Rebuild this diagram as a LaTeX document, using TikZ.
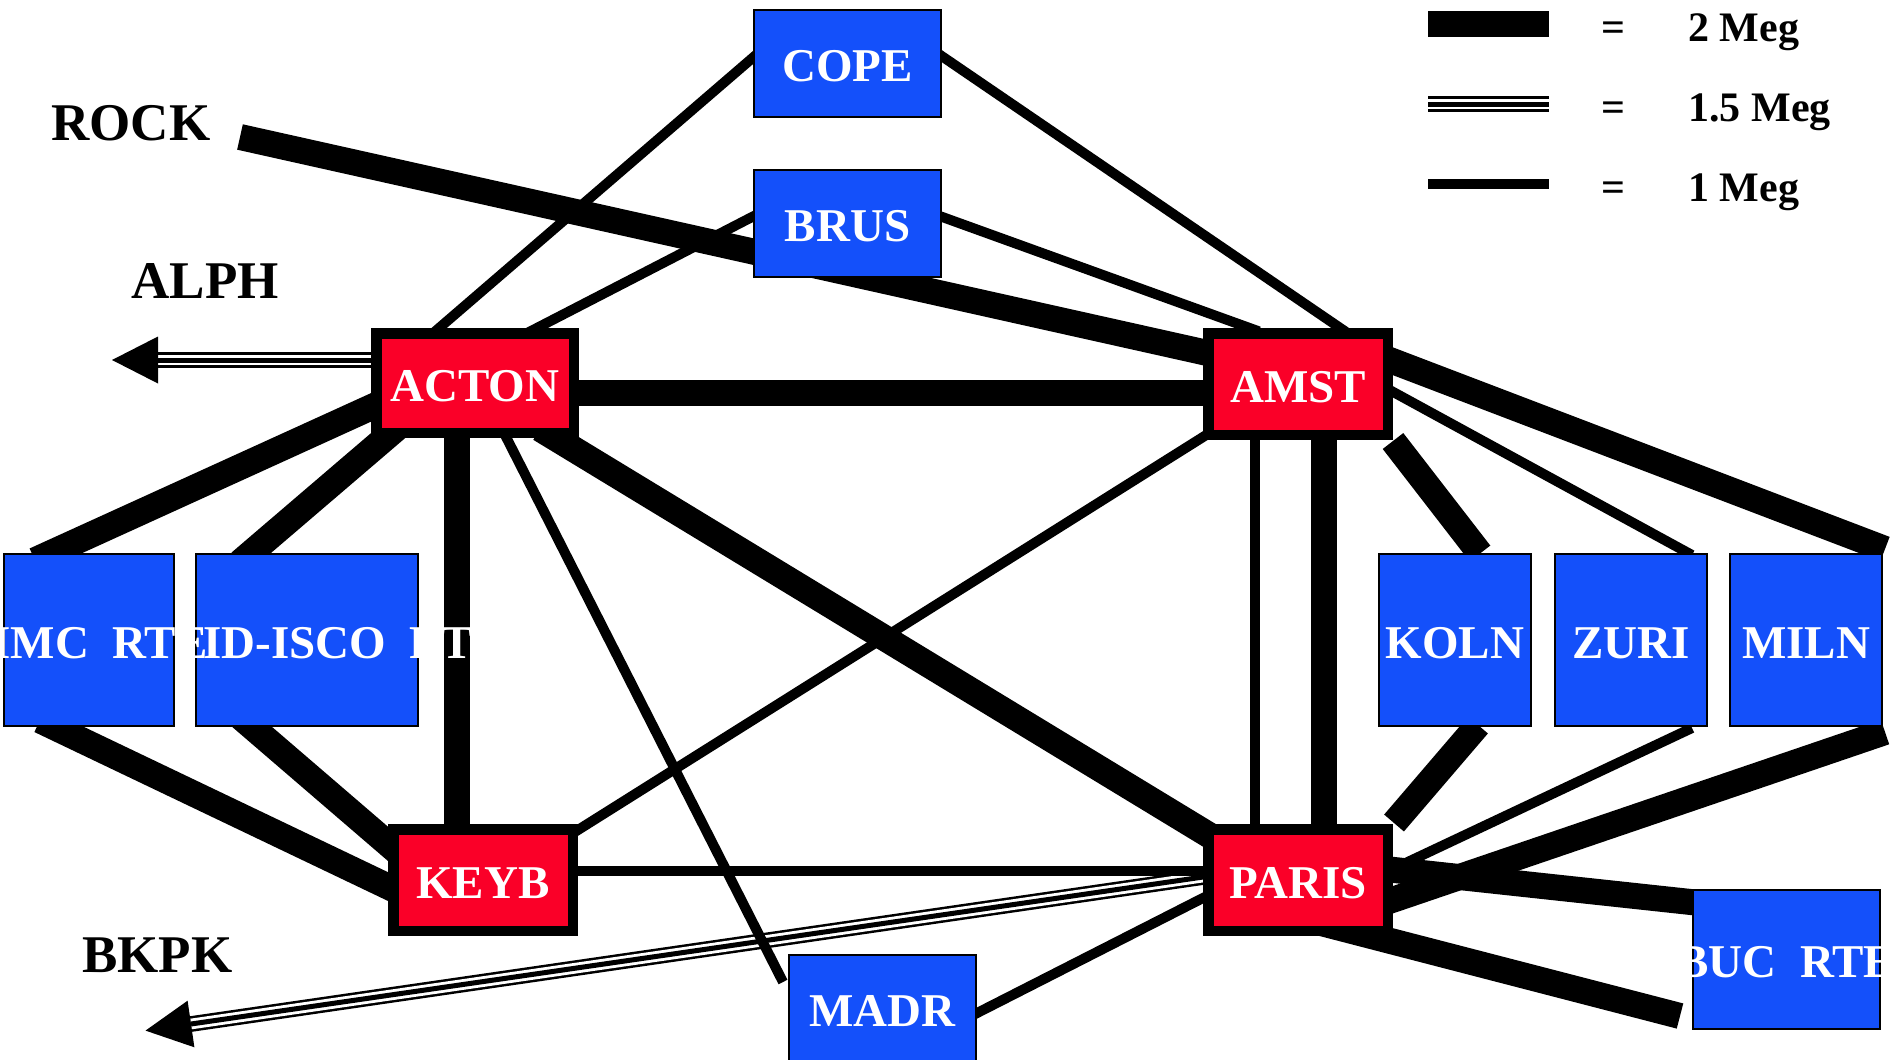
\documentclass[tikz,border=0pt]{standalone}
\usepackage{fontspec}
\setmainfont{Liberation Serif}
\usetikzlibrary{calc}
\definecolor{boxblue}{RGB}{20,80,250}
\definecolor{boxred}{RGB}{250,0,40}
\pgfdeclarelayer{bg}
\pgfsetlayers{bg,main}
\begin{document}
\begin{tikzpicture}[x=0.5pt,y=-0.5pt,
  meg2/.style={line width=13pt},
  meg1/.style={line width=5pt},
  meg15/.style={line width=7.85pt,
     postaction={draw=white,line width=5.35pt},
     postaction={draw=black,line width=2.5pt}},
  boxfont/.style={font=\fontsize{23.5}{28}\selectfont\bfseries, text height=18pt, text depth=0pt},
  bluebox/.style={draw=black, fill=boxblue, line width=1.2pt, inner sep=0pt,
     text=white, boxfont},
  redbox/.style={draw=black, fill=boxred, line width=5.25pt, inner sep=0pt,
     text=white, boxfont, minimum width=89.75pt, minimum height=50.75pt},
  smallbox/.style={bluebox, minimum width=93.3pt, minimum height=53.3pt},
  tallbox/.style={bluebox, minimum width=75.8pt, minimum height=85.8pt},
  overtext/.style={boxfont, text=white, inner sep=0pt, anchor=west},
  lbl/.style={font=\fontsize{26.5}{30}\selectfont\bfseries, inner sep=0pt, anchor=base west},
  leg/.style={font=\fontsize{21}{25}\selectfont\bfseries, inner sep=0pt},
  tipfill/.style={fill=black}
]
\useasboundingbox (0,0) rectangle (1901,1060);
\clip (0,0) rectangle (1901,1060);

% ---------- boxes ----------
\node[smallbox] (cope) at (847.5,63.5) {COPE};
\node[smallbox] (brus) at (847.5,223.5) {BRUS};
\node[smallbox] (madr) at (882.5,1008) {MADR};
\node[bluebox, minimum width=93.3pt, minimum height=69.3pt] (buc) at (1786.5,959.5) {};
\node[bluebox, minimum width=110.8pt, minimum height=85.8pt] (isco) at (307,640) {};
\node[bluebox, minimum width=84.8pt, minimum height=85.8pt] (imc) at (89,640) {};
\node[tallbox] (koln) at (1455,640) {KOLN};
\node[tallbox] (zuri) at (1631,640) {ZURI};
\node[tallbox] (miln) at (1806,640) {MILN};
\node[redbox, minimum width=98.75pt, minimum height=49.75pt] (acton) at (475,383) {ACTON};
\node[redbox] (amst) at (1298,384) {AMST};
\node[redbox] (keyb) at (483,880) {KEYB};
\node[redbox] (paris) at (1298,880) {PARIS};

% texts that run past their boxes
\node[overtext] (imctext) at ($(imc)+(-97,0)$) {IMC\ \ RTE};
\node[overtext] (iscotext) at ($(isco)+(-104,0)$) {ID-ISCO\ \ RTE};
\node[overtext] (buctext) at ($(buc)+(-109.5,0)$) {BUC\ \ RTE};

% free ends
\coordinate (rockend) at (240,137);
\coordinate (alphbase) at (158,360);
\coordinate (alphtip) at (112,360);
\coordinate (bkpkbase) at (191,1024);
\coordinate (bkpktip) at (145.5,1030.6);

\begin{pgfonlayer}{bg}
% 1.5 Meg links (under the others)
\draw[meg15] ($(acton)+(-99,-23)$) -- (alphbase);
\fill[tipfill] ($(alphbase)+(0,-23.5)$) -- (alphtip) -- ($(alphbase)+(0,23.5)$) -- cycle;
\draw[meg15] ($(paris)+(-88,-4)$) -- (bkpkbase);
\fill[tipfill] ($(bkpkbase)+(-3.4,-23.3)$) -- (bkpktip) -- ($(bkpkbase)+(3.4,23.3)$) -- cycle;

% 1 Meg links
\draw[meg1] ($(acton)+(-44,-48)$) -- ($(cope)+(-87.5,-12)$);
\draw[meg1] ($(cope)+(87.5,-12)$) -- ($(amst)+(51,-50)$);
\draw[meg1] ($(brus)+(-88.5,-10.1)$) -- ($(acton)+(53,-50.4)$);
\draw[meg1] ($(brus)+(86.5,-9.5)$) -- ($(amst)+(-39,-52.6)$);
\draw[meg1] ($(acton)+(27,46)$) -- ($(madr)+(-99.5,-26)$);
\draw[meg1] ($(keyb)+(87,-45)$) -- ($(amst)+(-87,48)$);
\draw[meg1] ($(keyb)+(92,-9)$) -- ($(paris)+(-88,-9)$);
\draw[meg1] ($(madr)+(87.5,8.6)$) -- ($(paris)+(-86,13.4)$);
\draw[meg1] ($(amst)+(-43,51)$) -- ($(paris)+(-43,-50)$);
\draw[meg1] ($(amst)+(89,4.6)$) -- ($(zuri)+(61,-85)$);
\draw[meg1] ($(zuri)+(61,88)$) -- ($(paris)+(90,-8.7)$);

% 2 Meg links
\draw[meg2] (rockend) -- ($(amst)+(-83,-29.3)$);
\draw[meg2] ($(acton)+(100,9.5)$) -- ($(amst)+(-91,8.5)$);
\draw[meg2] ($(acton)+(-90,18)$) -- ($(imc)+(-54,-79.7)$);
\draw[meg2] ($(acton)+(-75,42.4)$) -- ($(isco)+(-67,-77.6)$);
\draw[meg2] ($(acton)+(-18,47)$) -- ($(keyb)+(-26,-50)$);
\draw[meg2] ($(acton)+(65,45.7)$) -- ($(paris)+(-76,-37)$);
\draw[meg2] ($(imc)+(-49,80.3)$) -- ($(keyb)+(-83,12.3)$);
\draw[meg2] ($(isco)+(-67,76.5)$) -- ($(keyb)+(-79,-22.4)$);
\draw[meg2] ($(amst)+(26,51)$) -- ($(paris)+(26,-50)$);
\draw[meg2] ($(amst)+(95,57)$) -- ($(koln)+(25,-86.5)$);
\draw[meg2] ($(koln)+(23,85)$) -- ($(paris)+(96,-57)$);
\draw[meg2] ($(amst)+(89,-25)$) -- ($(miln)+(79,-91)$);
\draw[meg2] ($(paris)+(87,22.4)$) -- ($(miln)+(79,92)$);
\draw[meg2] ($(paris)+(87,-11)$) -- ($(buc)+(-86.5,-56.5)$);
\draw[meg2] ($(paris)+(0,37)$) -- ($(buc)+(-106.5,56.5)$);
\end{pgfonlayer}

% ---------- outside labels ----------
\node[lbl] (rock) at (51,140) {ROCK};
\node[lbl] (alph) at (131,298) {ALPH};
\node[lbl] (bkpk) at (82,972) {BKPK};

% ---------- legend ----------
\draw[meg2] (1428,23.7) -- (1549,23.7);
\draw[meg15] (1428,104) -- (1549,104);
\draw[meg1] (1428,184) -- (1549,184);
\node[leg, anchor=base] (eqa) at (1613,41.7) {=};
\node[leg, anchor=base] (eqb) at (1613,121.7) {=};
\node[leg, anchor=base] (eqc) at (1613,201.7) {=};
\node[leg, anchor=base west] (lega) at (1688,41.7) {2 Meg};
\node[leg, anchor=base west] (legb) at (1688,121.7) {1.5 Meg};
\node[leg, anchor=base west] (legc) at (1688,201.7) {1 Meg};
\end{tikzpicture}
\end{document}
